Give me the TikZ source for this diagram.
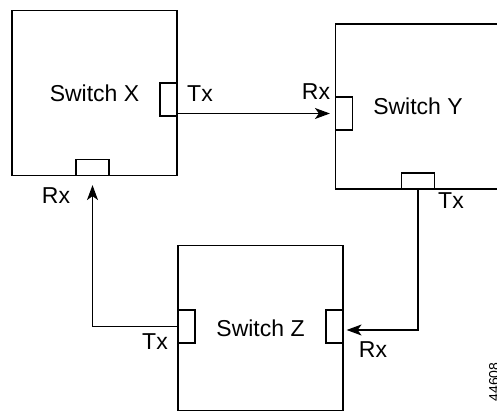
\documentclass[tikz,border=0pt]{standalone}
\usepackage{fontspec}
\setmainfont{Liberation Sans}
\usetikzlibrary{arrows.meta,positioning}

\begin{document}
\begin{tikzpicture}[x=1pt,y=-1pt,line width=1.2pt,
    switch/.style={draw,minimum width=165pt,minimum height=165pt,inner sep=0pt,
        font=\fontsize{23}{27}\selectfont},
    vport/.style={draw,fill=white,minimum width=17pt,minimum height=33pt,inner sep=0pt},
    hport/.style={draw,fill=white,minimum width=33pt,minimum height=16pt,inner sep=0pt},
    lbl/.style={inner sep=0pt,font=\fontsize{23}{27}\selectfont},
    link/.style={-{Stealth[length=15pt,width=11pt,inset=4pt]}}]
        \useasboundingbox (0,0) rectangle (497,411);
        % the three switches
        \node[switch] (X) at (94.5,93) {Switch X};
        \node[switch] (Y) at (418,106.5) {Switch Y};
        \node[switch] (Z) at (260.5,328) {Switch Z};
        % ports
        \node[vport,anchor=east] (txX) at ([yshift=-6.5pt]X.east) {};
        \node[hport,anchor=south] (rxX) at ([xshift=-2pt]X.south) {};
        \node[vport,anchor=west] (rxY) at ([yshift=-7pt]Y.west) {};
        \node[hport,anchor=south] (txY) at (Y.south) {};
        \node[vport,anchor=west] (txZ) at ([yshift=1.5pt]Z.west) {};
        \node[vport,anchor=east] (rxZ) at ([yshift=1.5pt]Z.east) {};
        % labels
        \node[lbl] (txXl) at (200,94) {Tx};
        \node[lbl] (rxXl) at (56,196) {Rx};
        \node[lbl] (rxYl) at (316,92) {Rx};
        \node[lbl] (txYl) at (451,201) {Tx};
        \node[lbl] (txZl) at (155,342) {Tx};
        \node[lbl] (rxZl) at (373,350) {Rx};
        \node[rotate=90,inner sep=0pt,font=\fontsize{14}{16}\selectfont,anchor=east]
            (fig) at (494,362) {44608};
        % links
        \draw[link,shorten >=5pt] (txX.east |- rxY) -- (rxY.west);
        \draw[link,shorten >=3pt] (txY.south) |- ([yshift=-3.5pt]rxZ.east);
        \draw[link,shorten >=9pt] (txZ.west) -| (rxX.south);
\end{tikzpicture}
\end{document}
